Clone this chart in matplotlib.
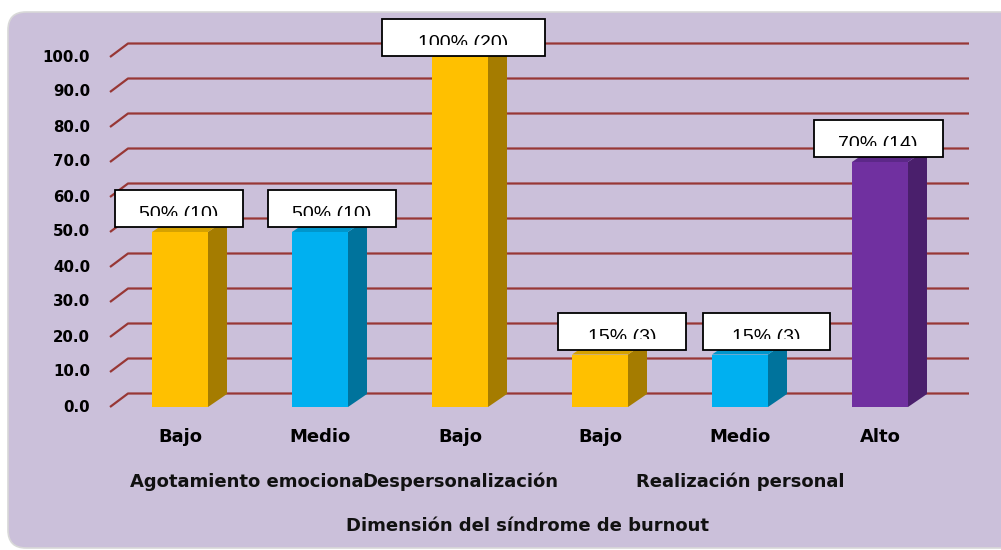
import matplotlib
matplotlib.use("Agg")
import matplotlib.pyplot as plt
from matplotlib.patches import Polygon, Rectangle, FancyBboxPatch
from matplotlib.transforms import Bbox, TransformedBbox

# ---- data ----
categories = ["Bajo", "Medio", "Bajo", "Bajo", "Medio", "Alto"]
percent = [50, 50, 100, 15, 15, 70]
counts = [10, 10, 20, 3, 3, 14]
groups = ["Agotamiento emocional", "Despersonalización", "Realización personal"]
group_members = [[0, 1], [2], [3, 4, 5]]
y_ticks = [0, 10, 20, 30, 40, 50, 60, 70, 80, 90, 100]
x_title = "Dimensión del síndrome de burnout"

# ---- styling ----
front_colors = ["#FFC000", "#00B0F0", "#FFC000", "#FFC000", "#00B0F0", "#7030A0"]
side_colors = ["#A57C00", "#00739C", "#A57C00", "#A57C00", "#00739C", "#4A1F6C"]
top_colors = ["#D6A200", "#0096CC", "#D6A200", "#D6A200", "#0096CC", "#5C2888"]
panel_color = "#CBC0DA"
grid_color = "#983735"
LABEL_FONT = "DejaVu Sans"

W, H, DPI = 1001, 550, 100
PX_X = 140.0   # pixels per category step
PX_Y = 3.5     # pixels per percentage point
X0_PX, Y0_PX = 180.0, 407.0   # pixel position of category 0 / value 0

fig = plt.figure(figsize=(W / DPI, H / DPI), dpi=DPI)
fig.patch.set_facecolor("white")

# rounded background panel
panel = FancyBboxPatch((8 / W, 2 / H), 1.2, (536 / H),
                       boxstyle="round,pad=0,rounding_size=0.018",
                       transform=fig.transFigure, facecolor=panel_color,
                       edgecolor="#D8D8D8", linewidth=1.2, mutation_aspect=W / H,
                       zorder=-10)
fig.patches.append(panel)

ax = fig.add_axes([0, 0, 1, 1])
ax.set_axis_off()
ax.patch.set_alpha(0)
ax.set_zorder(1)
ax.set_xlim(-X0_PX / PX_X, (W - X0_PX) / PX_X)
ax.set_ylim(-(H - Y0_PX) / PX_Y, Y0_PX / PX_Y)


def dx(px):
    return px / PX_X


def dy(px):
    return px / PX_Y


depth_x, depth_y = dx(19), dy(13)
wall_x, wall_y = dx(18), dy(13.5)

# gridlines on the back wall with their short diagonal leader
x_front = dx(110 - X0_PX)
x_end = dx(969 - X0_PX)
for v in y_ticks:
    ax.plot([x_front, x_front + wall_x, x_end], [v, v + wall_y, v + wall_y],
            color=grid_color, lw=1.6, solid_capstyle="butt", zorder=1)
    ax.text(dx(90 - X0_PX), v, f"{v:.1f}", ha="right", va="center",
            fontsize=10.8, fontweight="bold", family=LABEL_FONT, color="black")

# bars: front face + side + top
xs = list(range(len(percent)))
bw = dx(56)
ax.bar(xs, percent, width=bw, color=front_colors, zorder=3, linewidth=0)
for i, v in enumerate(percent):
    r = i + bw / 2
    l = i - bw / 2
    ax.add_patch(Polygon([[r, 0], [r + depth_x, depth_y], [r + depth_x, v + depth_y], [r, v]],
                         closed=True, facecolor=side_colors[i], edgecolor="none", zorder=3))
    ax.add_patch(Polygon([[l, v], [r, v], [r + depth_x, v + depth_y], [l + depth_x, v + depth_y]],
                         closed=True, facecolor=top_colors[i], edgecolor="none", zorder=3))

# value labels in boxes (box width, horizontal shift, vertical shift in px)
label_box_w = [128, 128, 163, 128, 127, 129]
label_shift_x = [-1, 12, 3, 22, 26, -2]
label_shift_y = [0, 0, 4, 0, 0, 0]
box_h = 37
for i, v in enumerate(percent):
    cx = i + dx(label_shift_x[i])
    bottom = v + dy(5 - label_shift_y[i])
    left = cx - dx(label_box_w[i]) / 2
    ax.add_patch(Rectangle((left, bottom), dx(label_box_w[i]), dy(box_h),
                           facecolor="white", edgecolor="black", lw=1.3, zorder=5))
    top = bottom + dy(box_h)
    t = ax.text(cx, top - dy(29), f"{v}% ({counts[i]})", ha="center", va="baseline",
                fontsize=14, family="Liberation Sans", color="black", zorder=6)
    clip = TransformedBbox(Bbox([[left, top - dy(26)], [left + dx(label_box_w[i]), top]]),
                           ax.transData)
    t.set_clip_box(clip)
    t.set_clip_on(True)

# category labels
for i, c in enumerate(categories):
    ax.text(i, dy(407 - 437), c, ha="center", va="center", fontsize=13,
            fontweight="bold", family=LABEL_FONT, color="black")

# group labels
for g, members in zip(groups, group_members):
    gx = sum(members) / len(members)
    ax.text(gx, dy(407 - 482), g, ha="center", va="center", fontsize=13,
            fontweight="bold", family=LABEL_FONT, color="#111111")

ax.text(dx(528 - X0_PX), dy(407 - 526), x_title, ha="center", va="center",
        fontsize=13, fontweight="bold", family=LABEL_FONT, color="#111111")

fig.savefig("out.png", dpi=DPI, facecolor=fig.get_facecolor())
